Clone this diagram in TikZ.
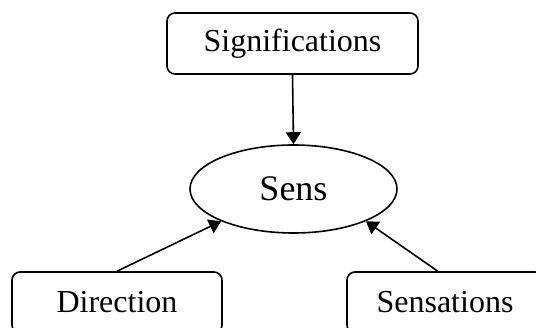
\documentclass[tikz,border=0pt]{standalone}
\usepackage{fontspec}
\setmainfont{Liberation Serif}
\usetikzlibrary{arrows.meta,shapes.geometric}

\begin{document}
\begin{tikzpicture}[
		x=0.5pt, y=0.5pt,
		line width=0.8pt,
		every node/.style={draw, inner sep=0pt, font=\fontsize{16}{18}\selectfont},
		box/.style={rectangle, rounded corners=4pt, minimum height=30.5pt},
		oval/.style={ellipse, minimum width=103.5pt, minimum height=44pt, font=\fontsize{18}{20}\selectfont},
		arr/.style={-{Triangle[length=6pt, width=7.5pt]}}
	]
  \useasboundingbox (0,0) rectangle (536,327);
  \clip (0,0) rectangle (536,327);
  \node (signif) [box, minimum width=125.5pt] at (292.5,283.5) {Significations};
  \node (sens) [oval] at (293.5,138) {Sens};
  \node (direction) [box, minimum width=105pt] at (117,24.5) {Direction};
  \node (sensations) [box, minimum width=98pt] at (445,24.5) {Sensations};
  \draw[arr] (signif.south) -- (sens.north);
  \draw[arr] (direction.north) -- (sens.204);
  \draw[arr] (sensations.103) -- (sens.336);
\end{tikzpicture}
\end{document}
